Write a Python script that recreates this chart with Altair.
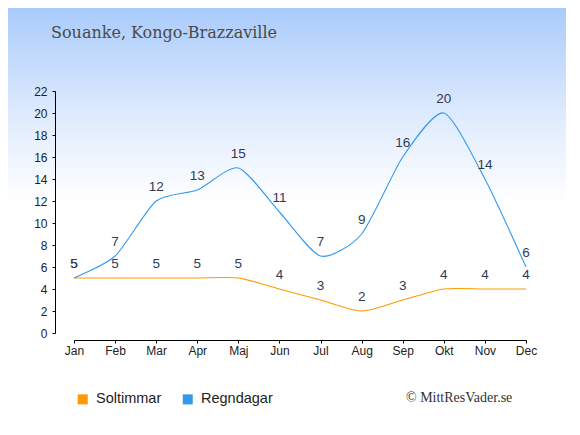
import altair as alt
import pandas as pd

months = ["Jan", "Feb", "Mar", "Apr", "Maj", "Jun", "Jul", "Aug", "Sep", "Okt", "Nov", "Dec"]
sun_hours = [5, 5, 5, 5, 5, 4, 3, 2, 3, 4, 4, 4]
rain_days = [5, 7, 12, 13, 15, 11, 7, 9, 16, 20, 14, 6]
series_names = ["Soltimmar", "Regndagar"]
series_colors = ["#ff9900", "#3399ee"]
y_ticks = list(range(0, 23, 2))
title_text = "Souanke, Kongo-Brazzaville"
credit_text = "© MittResVader.se"

rows = []
for m, s in zip(months, sun_hours):
    rows.append({"month": m, "series": series_names[0], "value": s})
for m, r in zip(months, rain_days):
    rows.append({"month": m, "series": series_names[1], "value": r})
df = pd.DataFrame(rows)

W, H = 452, 242
PL, PT, PR, PB = 66, 83, 40, 80

x_enc = alt.X("month:O", sort=months, scale=alt.Scale(type="point", padding=0),
              axis=alt.Axis(title=None, labelAngle=0, offset=7, tickSize=3, labelPadding=2,
                            zindex=1))
y_enc = alt.Y("value:Q", scale=alt.Scale(domain=[0, 22], nice=False),
              axis=alt.Axis(title=None, values=y_ticks, offset=19, tickSize=3, labelPadding=5,
                            grid=False, zindex=1))
color_scale = alt.Scale(domain=series_names, range=series_colors)

one = pd.DataFrame({"a": [0]})

bg = alt.Chart(one).mark_rect(
    color=alt.Gradient(gradient="linear", x1=0, x2=0, y1=0, y2=1,
                       stops=[alt.GradientStop(color="#a9cbfb", offset=0),
                              alt.GradientStop(color="#dce9fd", offset=0.25),
                              alt.GradientStop(color="#ffffff", offset=0.48),
                              alt.GradientStop(color="#ffffff", offset=1)])
).encode(x=alt.value(-PL), x2=alt.value(W + PR), y=alt.value(-PT), y2=alt.value(H + PB))

base = alt.Chart(df).encode(x=x_enc, y=y_enc)

lines = base.mark_line(interpolate="cardinal", tension=0.3, strokeWidth=1.1).encode(
    color=alt.Color("series:N", scale=color_scale, legend=None),
    detail="series:N",
)

legend_pts = base.mark_square(size=0, filled=True, opacity=1).encode(
    color=alt.Color("series:N", scale=color_scale,
                    legend=alt.Legend(title=None, orient="none", legendX=1.5, legendY=301,
                                      direction="horizontal", symbolType="square",
                                      symbolSize=100, symbolStrokeWidth=0,
                                      symbolOpacity=1,
                                      labelFont="Liberation Sans", labelFontSize=14.5,
                                      labelColor="#222222", labelOffset=6,
                                      columnPadding=19, padding=0, zindex=1)),
)

labels = base.mark_text(baseline="alphabetic", dy=-10, fontSize=13.5,
                        font="Liberation Sans", color="#2e3b57").encode(
    text="value:Q", detail="series:N")

title = alt.Chart(one).mark_text(text=title_text, align="left", baseline="alphabetic",
                                 font="DejaVu Serif", fontSize=16, color="#4a4a4a").encode(
    x=alt.value(-23), y=alt.value(-53.2))

credit = alt.Chart(one).mark_text(text=credit_text, align="right", baseline="alphabetic",
                                  font="Liberation Serif", fontSize=14, color="#333333").encode(
    x=alt.value(438.3), y=alt.value(311.3))

chart = alt.layer(bg, lines, legend_pts, labels, title, credit).resolve_legend(
    color="independent"
).properties(
    width=W, height=H,
    autosize=alt.AutoSizeParams(type="none"),
    padding={"left": PL, "top": PT, "right": PR, "bottom": PB},
).configure_view(stroke=None).configure_axis(
    domainColor="#000000", tickColor="#000000", labelColor="#222222",
    labelFont="Liberation Sans", labelFontSize=12, domainWidth=1, tickWidth=1,
)

chart.save("out.html", embed_options={"renderer": "svg", "actions": False})
